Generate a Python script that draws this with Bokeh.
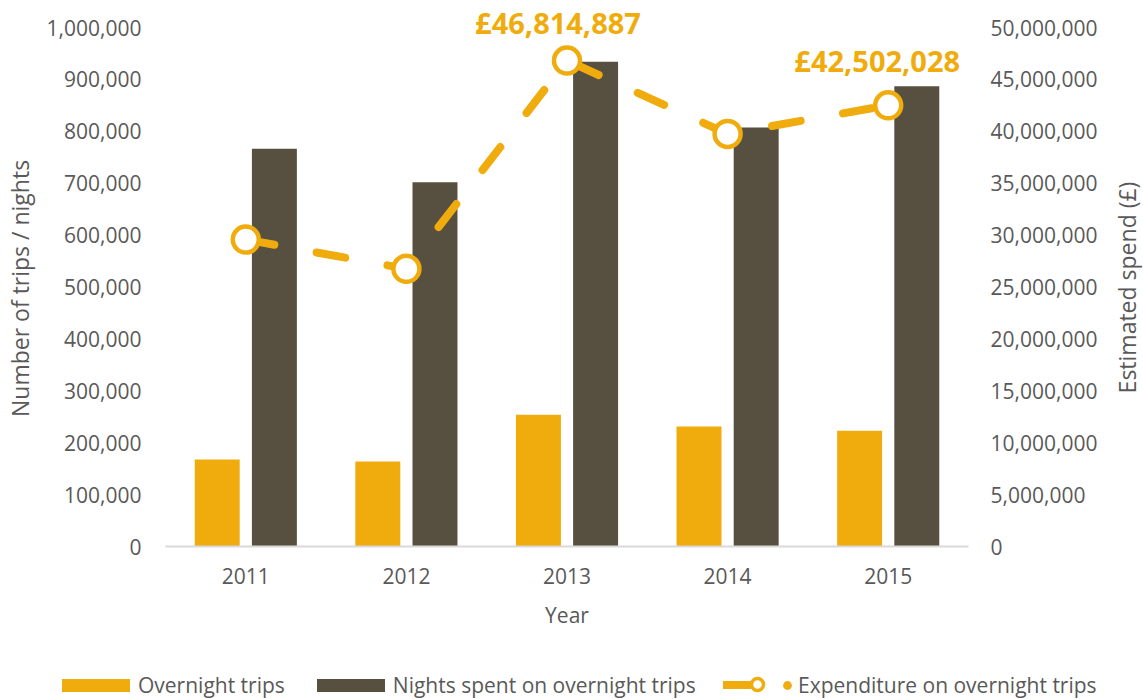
import math
from bokeh.plotting import figure
from bokeh.layouts import row
from bokeh.models import (Range1d, LinearAxis, FixedTicker, NumeralTickFormatter,
                          Legend, LegendItem, ColumnDataSource, FactorRange)
from bokeh.transform import dodge
from bokeh.core.properties import value
from bokeh.embed import file_html
from bokeh.resources import INLINE

# ---- data ----
years = ["2011", "2012", "2013", "2014", "2015"]
overnight_trips = [167600, 163800, 253900, 231000, 222900]
nights_spent = [766300, 702000, 933900, 807300, 886900]
expenditure = [29570000, 26750000, 46814887, 39750000, 42502028]
labelled_years = ["2013", "2015"]
left_ticks = [0, 100000, 200000, 300000, 400000, 500000, 600000, 700000, 800000, 900000, 1000000]
right_ticks = [0, 5000000, 10000000, 15000000, 20000000, 25000000, 30000000,
               35000000, 40000000, 45000000, 50000000]
LEFT_MAX = 1000000
RIGHT_MAX = 50000000
left_title = "Number of trips / nights"
right_title = "Estimated spend (£)"
x_title = "Year"

# ---- styles / layout ----
ORANGE = "#F0AB0C"
DARK = "#575040"
TEXT = "#595959"
FONT = "Open Sans"
label_dx = [-9, -11]
label_dy = [-38, -45]
NBSP = "\u00a0"

W = 1143
TITLE_W = 40            # strip on the right that carries the right axis title
H_MAIN = 660
H_LEG = 39
FRAME_LEFT = 164
FRAME_RIGHT = 968
FRAME_TOP_PAD = 27      # px between canvas top and the axis maximum
FRAME_H = 519           # px from 0 to axis maximum
FRAME_BOTTOM = FRAME_TOP_PAD + FRAME_H
stretch = (FRAME_H + FRAME_TOP_PAD) / FRAME_H
TITLE_CX = 1126 - (W - TITLE_W)     # title centre inside the strip
TITLE_CY = FRAME_BOTTOM - 287       # title centre, measured up from the frame bottom

src = ColumnDataSource(dict(year=years, trips=overnight_trips, nights=nights_spent, spend=expenditure))
lab_vals = [expenditure[years.index(y)] for y in labelled_years]
lab_src = ColumnDataSource(dict(year=labelled_years, spend=lab_vals, dx=label_dx, dy=label_dy,
                                txt=["£{:,.0f}".format(v) for v in lab_vals]))

p = figure(width=W - TITLE_W, height=H_MAIN, x_range=FactorRange(factors=years, range_padding=0),
           y_range=Range1d(0, LEFT_MAX * stretch), output_backend="svg", toolbar_location=None,
           min_border_left=FRAME_LEFT, min_border_right=W - TITLE_W - FRAME_RIGHT, min_border_top=0,
           min_border_bottom=H_MAIN - FRAME_BOTTOM)
p.extra_y_ranges = {"spend": Range1d(0, RIGHT_MAX * stretch)}
p.outline_line_color = None
p.xgrid.grid_line_color = None
p.ygrid.grid_line_color = None
p.background_fill_color = "white"
p.border_fill_color = "white"

# bars
b1 = p.vbar(x=dodge("year", -0.178, range=p.x_range), top="trips", width=0.28, source=src,
            fill_color=ORANGE, line_color=None)
b2 = p.vbar(x=dodge("year", 0.178, range=p.x_range), top="nights", width=0.28, source=src,
            fill_color=DARK, line_color=None)

# expenditure line
ln = p.line(x="year", y="spend", source=src, y_range_name="spend", line_color=ORANGE,
            line_width=8, line_dash="29 43", line_cap="round", line_join="round")
mk = p.scatter(x="year", y="spend", source=src, y_range_name="spend", marker="circle", size=26,
               fill_color="white", line_color=ORANGE, line_width=4.5)

p.text(x="year", y="spend", text="txt", source=lab_src, y_range_name="spend",
       text_font=value(FONT), text_font_style="bold", text_font_size="29px", text_color=ORANGE,
       text_align="center", text_baseline="middle", x_offset="dx", y_offset="dy")

# axes
xa = p.xaxis[0]
xa.axis_line_color = "#D9D9D9"
xa.axis_line_width = 2
xa.major_label_standoff = 21
xa.axis_label = x_title
xa.axis_label_standoff = 14

ya = p.yaxis[0]
ya.ticker = FixedTicker(ticks=left_ticks)
ya.formatter = NumeralTickFormatter(format="0,0")
ya.axis_line_color = None
ya.major_label_standoff = 24
ya.axis_label = left_title + NBSP * 5
ya.axis_label_standoff = 8

ra = LinearAxis(y_range_name="spend", ticker=FixedTicker(ticks=right_ticks),
                formatter=NumeralTickFormatter(format="0,0"))
ra.axis_line_color = None
ra.major_label_standoff = 22
p.add_layout(ra, "right")

for ax in (xa, ya, ra):
    ax.major_tick_line_color = None
    ax.minor_tick_line_color = None
    ax.major_tick_out = 0
    ax.major_tick_in = 0
    ax.minor_tick_out = 0
    ax.minor_tick_in = 0
    ax.major_label_text_font = FONT
    ax.major_label_text_font_size = "21px"
    ax.major_label_text_color = TEXT
    ax.axis_label_text_font = FONT
    ax.axis_label_text_font_size = "21px"
    ax.axis_label_text_font_style = "normal"
    ax.axis_label_text_color = TEXT
ya.axis_label_text_font_size = "23px"

# ---- right axis title strip (text reads bottom-to-top like the left title) ----
tf = figure(width=TITLE_W, height=H_MAIN, output_backend="svg", toolbar_location=None,
            x_axis_location=None, y_axis_location=None, min_border_left=0, min_border_right=0,
            min_border_top=0, min_border_bottom=H_MAIN - FRAME_BOTTOM,
            x_range=Range1d(0, TITLE_W), y_range=Range1d(0, FRAME_BOTTOM))
tf.outline_line_color = None
tf.xgrid.grid_line_color = None
tf.ygrid.grid_line_color = None
tf.background_fill_color = "white"
tf.border_fill_color = "white"
tf.text(x=[TITLE_CX], y=[TITLE_CY], text=[right_title], angle=math.pi / 2,
        text_font=value(FONT), text_font_size="23px", text_color=TEXT,
        text_align="center", text_baseline="middle")

# ---- legend strip: its own root, so it is neither clipped nor aligned ----
lf = figure(width=W, height=H_LEG, output_backend="svg", toolbar_location=None,
            x_axis_location=None, y_axis_location=None, min_border=0,
            x_range=Range1d(0, 1), y_range=Range1d(0, 1))
lf.outline_line_color = None
lf.xgrid.grid_line_color = None
lf.ygrid.grid_line_color = None
lf.background_fill_color = "white"
lf.border_fill_color = "white"

# legend proxies: one undefined point each, so only their legend swatches show
nan_src = ColumnDataSource(dict(x=[float("nan")], y=[float("nan")]))
pb1 = lf.vbar(x="x", top="y", width=0.1, source=nan_src, fill_color=ORANGE, line_color=None)
pb2 = lf.vbar(x="x", top="y", width=0.1, source=nan_src, fill_color=DARK, line_color=None)
pln = lf.line(x="x", y="y", source=nan_src, line_color=ORANGE, line_width=8, line_cap="round")
pring = lf.scatter(x="x", y="y", source=nan_src, marker="circle", fill_color="white",
                   line_color=ORANGE, line_width=3.5)
pdot = lf.scatter(x="x", y="y", source=nan_src, marker="circle", fill_color=ORANGE,
                  line_color=None)


def mk_legend(items, loc, gw, gh, standoff, spacing=0):
    lg = Legend(items=items, location=loc, orientation="horizontal", glyph_width=gw,
                glyph_height=gh, label_standoff=standoff, spacing=spacing, padding=0, margin=0,
                background_fill_alpha=0, border_line_alpha=0, label_text_font=FONT,
                label_text_font_size="21px", label_text_color=TEXT)
    lf.add_layout(lg, "center")
    return lg


mk_legend([LegendItem(label="Overnight trips", renderers=[pb1]),
           LegendItem(label="Nights spent on overnight trips", renderers=[pb2])],
          (53, 0), 85, 16, 0, 23)
mk_legend([LegendItem(label=" ", renderers=[pln])], (723, 0), 28, 29, 0)
mk_legend([LegendItem(label=" ", renderers=[pring])], (742, 0), 30, 30, 0)
mk_legend([LegendItem(label="Expenditure on overnight trips", renderers=[pdot])], (776, 0), 22, 24, 0)

open("out.html", "w").write(file_html([row(p, tf, spacing=0), lf], INLINE))
